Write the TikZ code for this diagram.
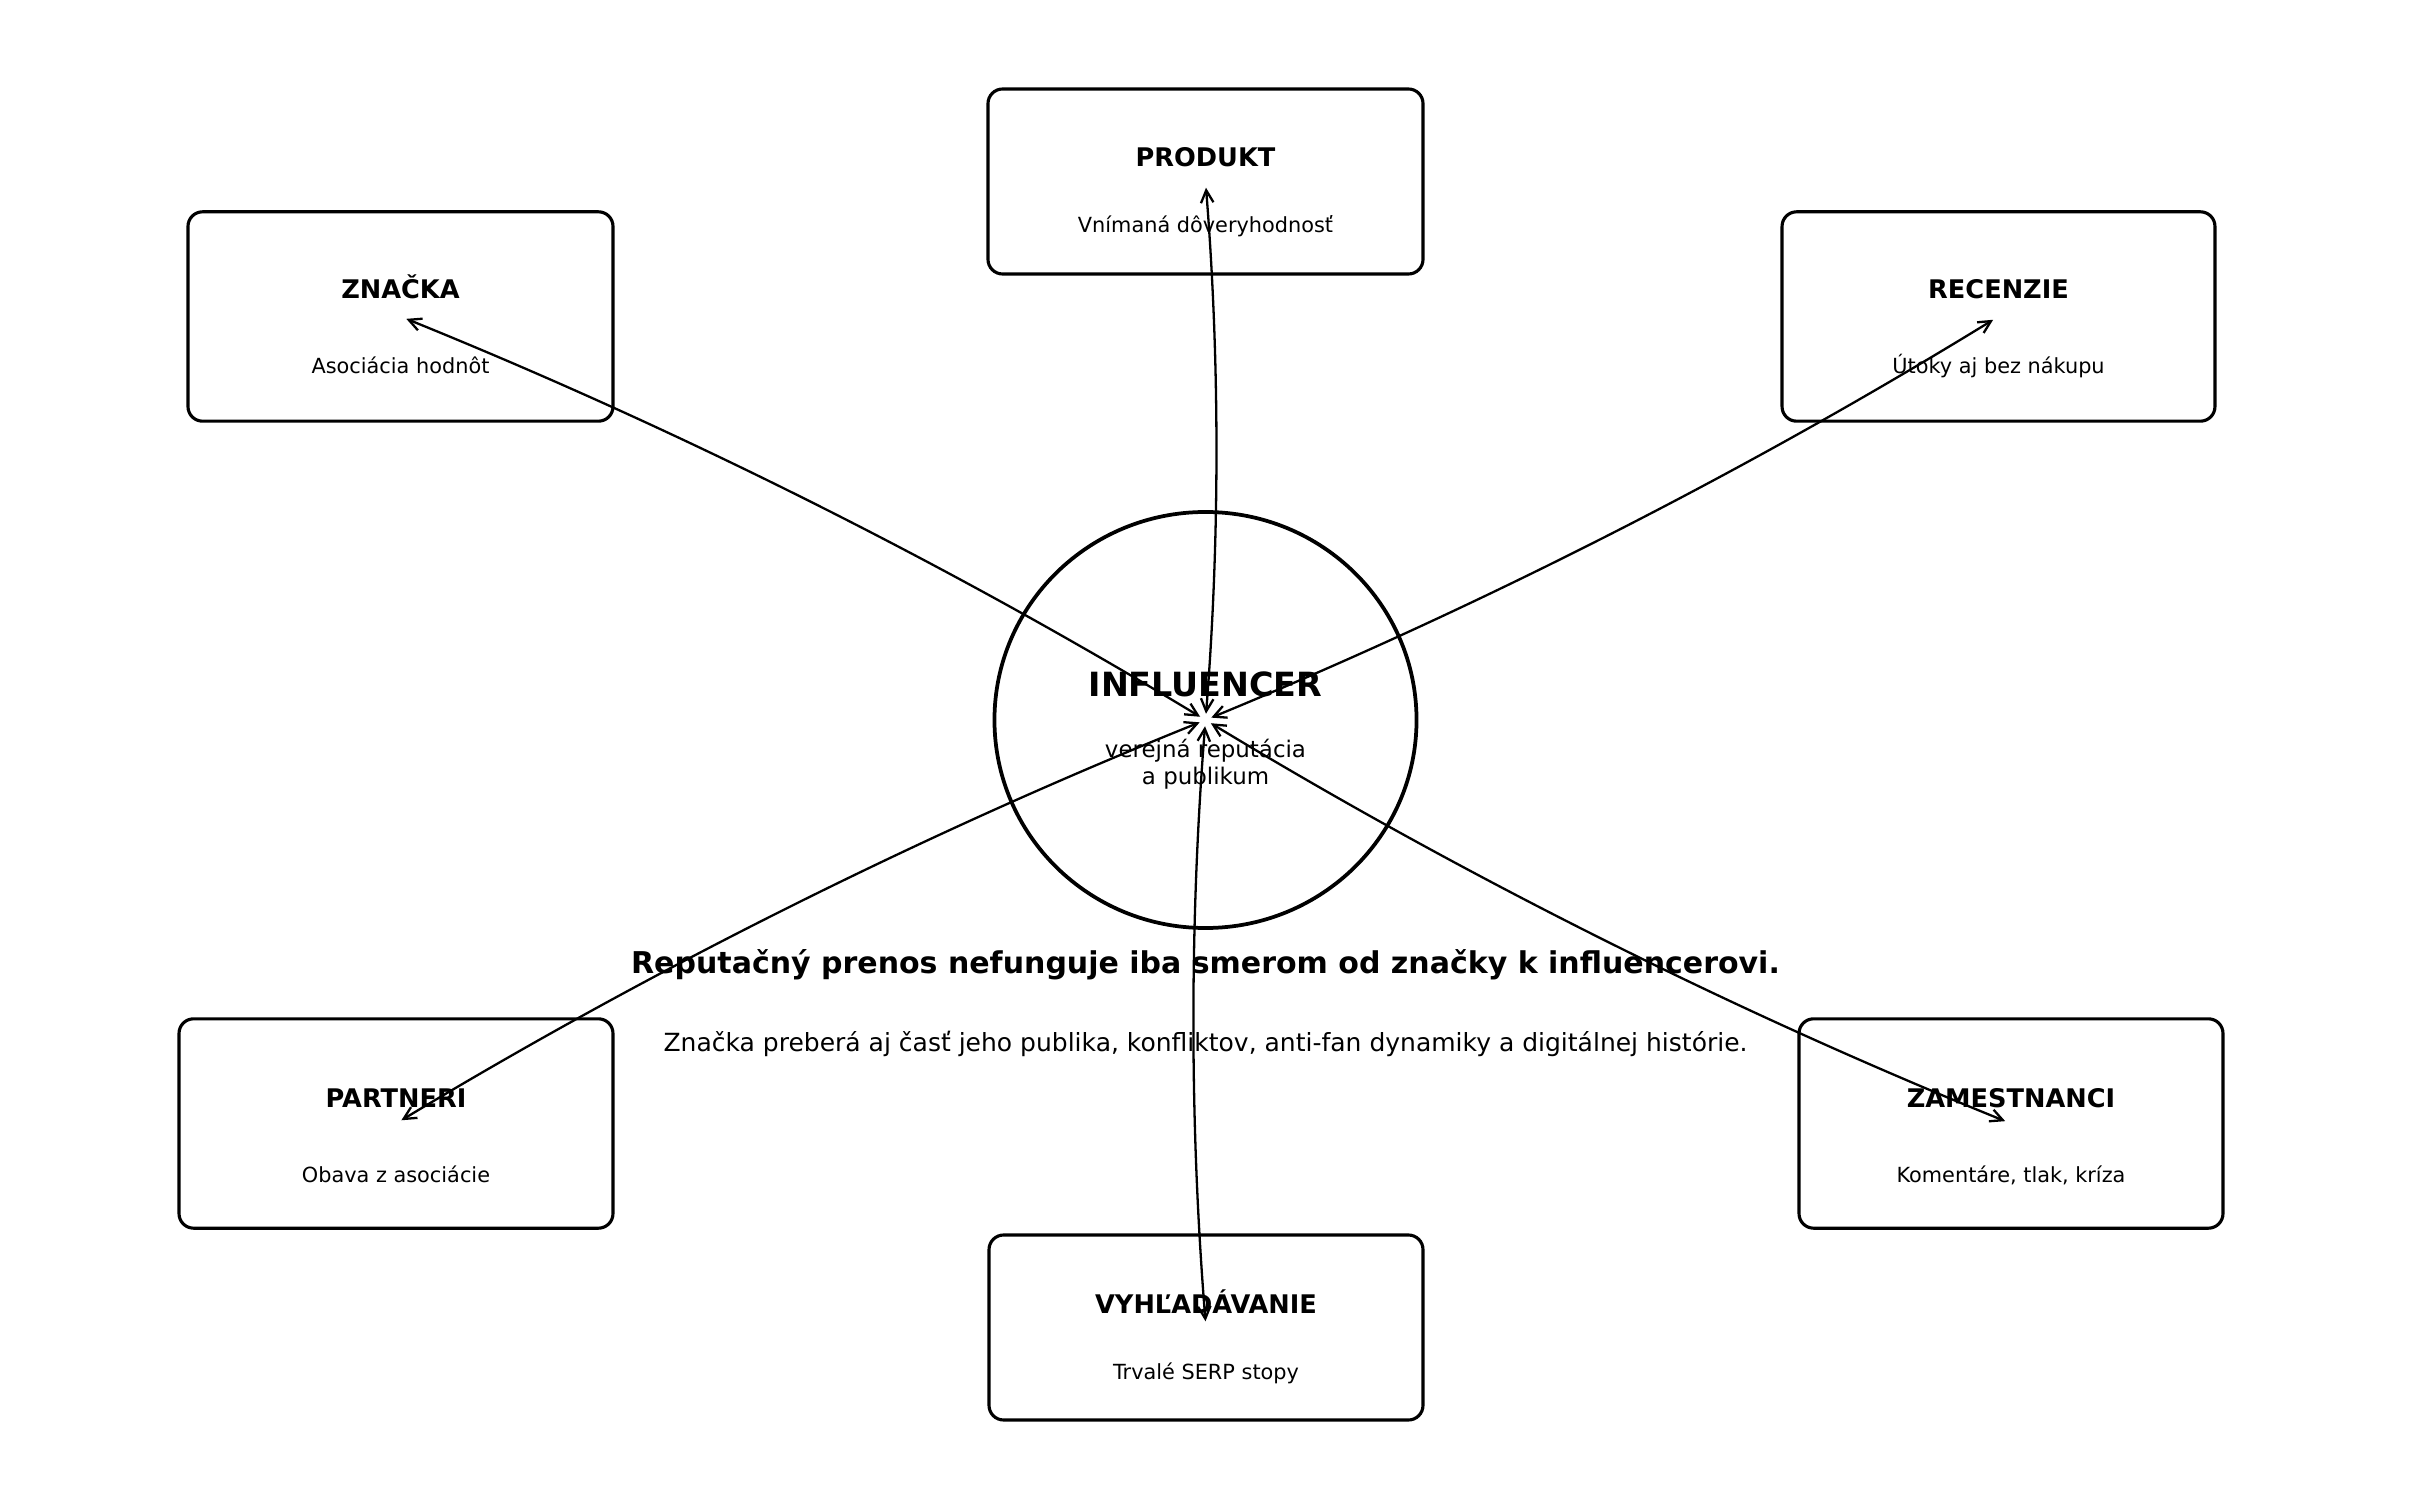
\documentclass[tikz,border=0pt]{standalone}
\usepackage{fontspec}
\setmainfont{DejaVu Sans}
\usetikzlibrary{arrows.meta,calc,shapes.geometric}
\begin{document}
\begin{tikzpicture}[x=0.48pt,y=-0.48pt,
  box/.style={draw, line width=1.5pt, rounded corners=7pt, inner sep=0pt},
  tallbox/.style={box, minimum height=100.5pt},
  shortbox/.style={box, minimum height=88.8pt},
  ttl/.style={font=\bfseries\fontsize{12.3}{14}\selectfont, anchor=base, inner sep=0pt},
  sub/.style={font=\fontsize{10}{12}\selectfont, anchor=base, inner sep=0pt},
  link/.style={line width=1.1pt,
    {Straight Barb[length=6pt,width=6pt]}-{Straight Barb[length=6pt,width=6pt]},
    shorten <=3pt, shorten >=3pt}]
\useasboundingbox (0,0) rectangle (2411,1511);

% boxes
\node[tallbox, minimum width=204pt] (zn) at (400.5,316.5) {};
\node[shortbox, minimum width=208.8pt] (pr) at (1205.5,181.5) {};
\node[tallbox, minimum width=207.8pt] (re) at (1998.5,316.5) {};
\node[tallbox, minimum width=208.3pt] (pa) at (396,1123.5) {};
\node[tallbox, minimum width=203.5pt] (za) at (2011,1123.5) {};
\node[shortbox, minimum width=208.3pt] (vy) at (1206,1327.5) {};

% central circle
\node[draw, ellipse, line width=1.8pt, minimum width=202.6pt, minimum height=199.7pt, inner sep=0pt] (inf) at (1205.5,720) {};

% box texts
\node[ttl] (zn-t) at (400.5,299) {ZNAČKA};
\node[sub] (zn-s) at (400.5,374) {Asociácia hodnôt};
\node[ttl] (pr-t) at (1205.5,167) {PRODUKT};
\node[sub] (pr-s) at (1205.5,233) {Vnímaná dôveryhodnosť};
\node[ttl] (re-t) at (1998.5,299) {RECENZIE};
\node[sub] (re-s) at (1998.5,374) {Útoky aj bez nákupu};
\node[ttl] (pa-t) at (396,1107) {PARTNERI};
\node[sub] (pa-s) at (396,1182) {Obava z asociácie};
\node[ttl] (za-t) at (2011,1107) {ZAMESTNANCI};
\node[sub] (za-s) at (2011,1182) {Komentáre, tlak, kríza};
\node[ttl] (vy-t) at (1206,1313) {VYHĽADÁVANIE};
\node[sub] (vy-s) at (1206,1379) {Trvalé SERP stopy};

% circle texts
\node[font=\bfseries\fontsize{16}{19}\selectfont, anchor=base, inner sep=0pt] (inf-t) at (1205.5,697) {INFLUENCER};
\node[font=\fontsize{11}{13}\selectfont, anchor=base, inner sep=0pt] (inf-s1) at (1205.5,758) {verejná reputácia};
\node[font=\fontsize{11}{13}\selectfont, anchor=base, inner sep=0pt] (inf-s2) at (1205.5,785) {a publikum};

% message
\node[font=\bfseries\fontsize{14.4}{17}\selectfont, anchor=base, inner sep=0pt] (msg) at (1205.5,973) {Reputačný prenos nefunguje iba smerom od značky k influencerovi.};
\node[font=\fontsize{12}{14}\selectfont, anchor=base, inner sep=0pt] (msg2) at (1205.5,1051) {Značka preberá aj časť jeho publika, konfliktov, anti-fan dynamiky a digitálnej histórie.};

% connectors
\foreach \b in {zn,pr,re,pa,za,vy}{
  \coordinate (q-\b) at ($(inf.center)!0.5!(\b.center)!0.08!-90:(\b.center)$);
  \draw[link] (inf.center) .. controls ($(inf.center)!0.6667!(q-\b)$) and ($(\b.center)!0.6667!(q-\b)$) .. (\b.center);
}
\end{tikzpicture}
\end{document}
